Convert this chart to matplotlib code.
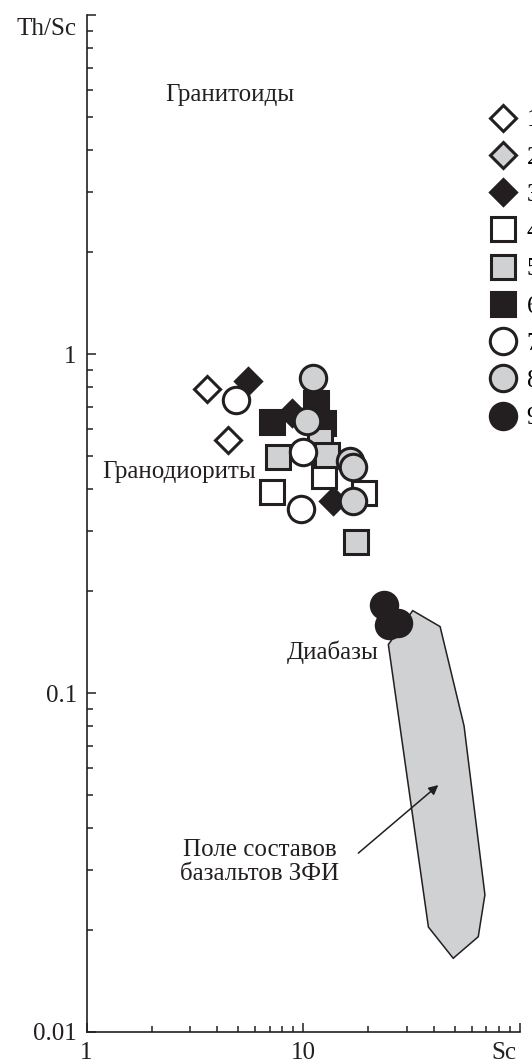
"""
Th/Sc vs Sc diagram (log-log) with the field of ZFI basalts.
"""

import matplotlib.pyplot as plt
from matplotlib.ticker import LogLocator, NullFormatter

plt.rcParams['font.family'] = ['Liberation Serif', 'DejaVu Serif']
plt.rcParams['font.size'] = 18

INK = '#231f20'
GREY = '#cfd1d3'

# sample groups 1..9: Sc (ppm) and Th/Sc
g1_sc, g1_thsc = [3.58, 4.51], [0.788, 0.557]
g2_sc, g2_thsc = [], []
g3_sc, g3_thsc = [5.56, 8.84, 13.76], [0.833, 0.670, 0.369]
g4_sc, g4_thsc = [7.20, 12.53, 19.07], [0.393, 0.437, 0.390]
g5_sc, g5_thsc = [11.95, 7.67, 12.91, 17.51], [0.558, 0.498, 0.504, 0.279]
g6_sc, g6_thsc = [11.51, 7.17, 12.34], [0.717, 0.632, 0.626]
g7_sc, g7_thsc = [4.92, 9.97, 9.76], [0.732, 0.515, 0.349]
g8_sc, g8_thsc = [11.06, 10.37, 16.35, 16.97, 16.97], [0.850, 0.635, 0.484, 0.464, 0.369]
g9_sc, g9_thsc = [23.58, 24.95, 27.45], [0.182, 0.159, 0.161]

# outline of the ZFI basalt field
field_sc = [24.7, 32.0, 42.8, 55.2, 68.9, 64.2, 49.2, 37.8]
field_thsc = [0.139, 0.175, 0.157, 0.080, 0.0254, 0.0191, 0.0165, 0.0204]

# (marker, face, size, draw order)
styles = {
    1: ('D', 'white', 13, 3),
    2: ('D', GREY, 13, 3),
    3: ('D', INK, 13, 2),
    4: ('s', 'white', 17, 4),
    5: ('s', GREY, 17, 5),
    6: ('s', INK, 17, 1),
    7: ('o', 'white', 19, 6),
    8: ('o', GREY, 19, 7),
    9: ('o', INK, 19, 8),
}
groups = {
    1: (g1_sc, g1_thsc), 2: (g2_sc, g2_thsc), 3: (g3_sc, g3_thsc),
    4: (g4_sc, g4_thsc), 5: (g5_sc, g5_thsc), 6: (g6_sc, g6_thsc),
    7: (g7_sc, g7_thsc), 8: (g8_sc, g8_thsc), 9: (g9_sc, g9_thsc),
}

fig = plt.figure(figsize=(5.32, 10.62), dpi=100)
ax = fig.add_axes([0.1626, 0.02825, 0.8148, 0.9576])
ax.set_xscale('log')
ax.set_yscale('log')
ax.set_xlim(1, 100)
ax.set_ylim(0.01, 10)

ax.fill(field_sc, field_thsc, facecolor=GREY, edgecolor=INK, lw=1.1, zorder=1)

handles = []
for k in range(1, 10):
    m, fc, ms, z = styles[k]
    xs, ys = groups[k]
    h, = ax.plot(xs, ys, ls='none', marker=m, ms=ms, mfc=fc, mec=INK,
                 mew=2.2, label=str(k), zorder=3 + z, clip_on=False)
    handles.append(h)

# legend sits at the right edge; its numbers are cut by the figure border
ax.legend(handles=handles, loc='upper left', frameon=False,
          bbox_to_anchor=(0.9102, 0.8975), bbox_transform=fig.transFigure,
          borderpad=0, borderaxespad=0, handlelength=1.5,
          handletextpad=0.2, labelspacing=0.59, numpoints=1)

# field labels
ax.text(2.30, 5.81, 'Гранитоиды', ha='left', va='center', color=INK)
ax.text(1.188, 0.4496, 'Гранодиориты', ha='left', va='center', color=INK)
ax.text(8.39, 0.1323, 'Диабазы', ha='left', va='center', color=INK)
ax.text(6.32, 0.0317, 'Поле составов\nбазальтов ЗФИ', ha='center',
        va='center', multialignment='center', color=INK, linespacing=1.1)
ax.annotate('', xy=(42.0, 0.0535), xytext=(17.95, 0.0337),
            arrowprops=dict(arrowstyle='-|>', lw=1.1, color=INK,
                            mutation_scale=14, shrinkA=0, shrinkB=0))

# axes
for side in ('top', 'right'):
    ax.spines[side].set_visible(False)
for side in ('left', 'bottom'):
    ax.spines[side].set_linewidth(1.2)
    ax.spines[side].set_color(INK)

ax.set_xticks([1, 10, 100], ['1', '10', ''])
ax.set_yticks([0.01, 0.1, 1, 10], ['0.01', '0.1', '1', ''])
ax.xaxis.set_minor_locator(LogLocator(base=10, subs=range(2, 10)))
ax.yaxis.set_minor_locator(LogLocator(base=10, subs=range(2, 10)))
ax.xaxis.set_minor_formatter(NullFormatter())
ax.yaxis.set_minor_formatter(NullFormatter())
ax.tick_params(which='both', direction='in', color=INK, width=1.1,
               labelcolor=INK, pad=7)
ax.tick_params(which='major', length=6.5)
ax.tick_params(which='minor', length=4)

ax.annotate('Th/Sc', xy=(0, 9.09), xycoords=('axes fraction', 'data'),
            xytext=(-7, 0), textcoords='offset points',
            ha='right', va='center', color=INK)
ax.annotate('Sc', xy=(84.4, 0), xycoords=('data', 'axes fraction'),
            xytext=(0, -7), textcoords='offset points',
            ha='center', va='top', color=INK)

fig.savefig('out.png', dpi=100)
